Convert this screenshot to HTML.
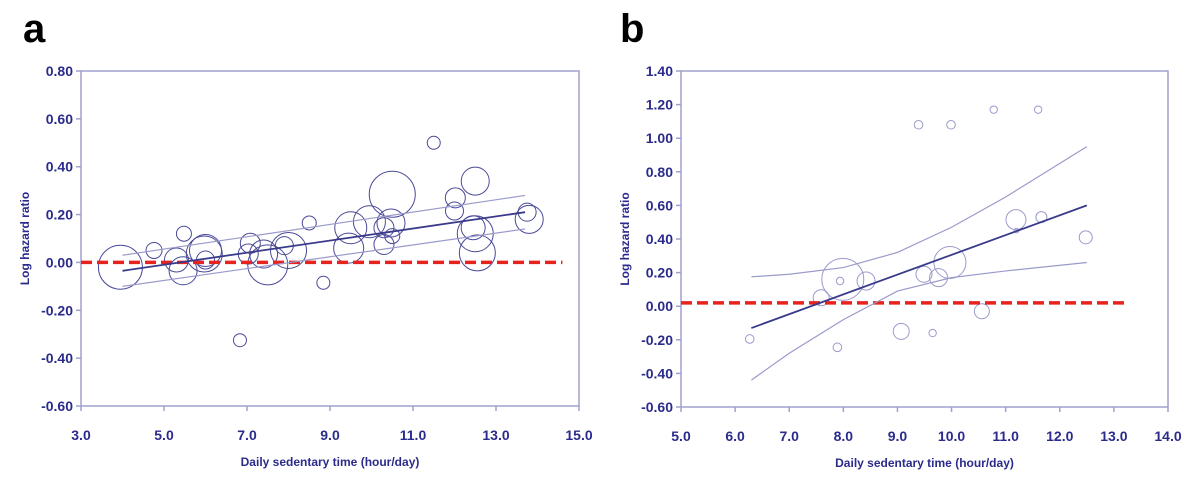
<!DOCTYPE html>
<html><head><meta charset="utf-8"><style>
html,body{margin:0;padding:0;background:#fff;}
svg{display:block;font-family:"Liberation Sans",sans-serif;}
.tk{font-size:14px;font-weight:bold;fill:#2b2b8c;}
.ttl{font-size:12px;font-weight:bold;fill:#2b2b8c;}
.pl{font-size:40px;font-weight:bold;fill:#000;}
</style></head><body>
<svg id="chart" width="1200" height="487" viewBox="0 0 1200 487"></svg>
<script>
// Panel a data
const aXTicks=[3,5,7,9,11,13,15];
const aYTicks=[0.8,0.6,0.4,0.2,0,-0.2,-0.4,-0.6];
const aBx=[3.95,4.76,5.48,5.46,5.3,5.97,6.0,6.0,7.08,7.03,7.5,7.4,8.0,7.9,8.5,8.84,6.83,9.5,9.45,9.95,10.3,10.5,10.47,10.5,10.3,11.5,12.02,12.0,12.5,12.5,12.55,12.45,13.8,13.75];
const aBy=[-0.02,0.05,0.12,-0.035,0.01,0.035,0.05,0.01,0.08,0.035,-0.01,0.035,0.05,0.07,0.165,-0.085,-0.325,0.145,0.06,0.17,0.075,0.285,0.165,0.11,0.145,0.50,0.27,0.215,0.34,0.12,0.04,0.145,0.18,0.21];
const aBw=[22,8,7.5,14,12,18,16,9,10,10,20,14,18,9,7,6.5,6.5,16,15,16,10,23,14,7.5,10,6.5,10,9,14,18,18,12,14,9];
const aFitX=[4.0,13.7];const aFitY=[-0.035,0.21];
const aUpY=[0.03,0.28];const aLoY=[-0.10,0.14];
// Panel b data
const bXTicks=[5,6,7,8,9,10,11,12,13,14];
const bYTicks=[1.4,1.2,1.0,0.8,0.6,0.4,0.2,0,-0.2,-0.4,-0.6];
const bBx=[6.27,7.94,7.89,7.59,7.99,8.42,9.07,9.39,9.99,9.65,9.49,9.76,9.97,10.56,10.78,11.6,11.19,11.66,12.48,11.2];
const bBy=[-0.195,0.15,-0.245,0.05,0.16,0.15,-0.15,1.08,1.08,-0.16,0.19,0.17,0.26,-0.03,1.17,1.17,0.515,0.53,0.41,0.45];
const bBw=[4.3,3.7,4.3,8,21,9,8,4.3,4.3,3.7,8,9,16,7.5,3.7,3.7,10,5.5,6.5,2.3];
const bFitX=[6.3,12.5];const bFitY=[-0.13,0.60];
const bCiX=[6.3,7,8,9,10,11,12.5];
const bUpY=[0.175,0.19,0.23,0.32,0.47,0.65,0.95];
const bLoY=[-0.44,-0.28,-0.08,0.09,0.17,0.21,0.26];

const svg=document.getElementById('chart');
const NS='http://www.w3.org/2000/svg';
function mk(t,at,p){const e=document.createElementNS(NS,t);for(const k in at)e.setAttribute(k,at[k]);(p||svg).appendChild(e);return e;}

function panel(o){
  const g=mk('g',{});
  
  
  const sx=v=>o.x0+(v-o.xmin)/(o.xmax-o.xmin)*(o.x1-o.x0);
  const sy=v=>o.y1-(v-o.ymin)/(o.ymax-o.ymin)*(o.y1-o.y0);
  const lbl=mk('text',{x:o.lx,y:42,class:'pl'},g);lbl.textContent=o.letter;
  
  
  const fr=mk('rect',{x:o.x0,y:o.y0,width:o.x1-o.x0,height:o.y1-o.y0,fill:'none',stroke:'#a0a0cc','stroke-width':1.5},g);
  
  
  o.yt.forEach(v=>{
    mk('line',{x1:o.x0-5,x2:o.x0,y1:sy(v),y2:sy(v),stroke:'#a0a0cc','stroke-width':1.5},g);
    const t=mk('text',{x:o.x0-8,y:sy(v)+5,'text-anchor':'end',class:'tk'},g);t.textContent=v.toFixed(2);
    
    
  });
  o.xt.forEach(v=>{
    mk('line',{x1:sx(v),x2:sx(v),y1:o.y1,y2:o.y1+5,stroke:'#a0a0cc','stroke-width':1.5},g);
    const t=mk('text',{x:sx(v),y:o.y1+34,'text-anchor':'middle',class:'tk'},g);t.textContent=v.toFixed(1);
    
    
  });
  const xt=mk('text',{x:(o.x0+o.x1)/2,y:o.y1+60,'text-anchor':'middle',class:'ttl'},g);xt.textContent='Daily sedentary time (hour/day)';
  
  
  const yc=(o.y0+o.y1)/2;
  const yt=mk('text',{x:o.x0-52,y:yc,'text-anchor':'middle',class:'ttl',transform:`rotate(-90 ${o.x0-52} ${yc})`},g);yt.textContent='Log hazard ratio';
  
  
  o.bx.forEach((v,i)=>{
    const c=mk('circle',{cx:sx(v),cy:sy(o.by[i]),r:o.bw[i],fill:'none',stroke:o.bc,'stroke-width':1},g);
    
    
  });
  const ref=mk('line',{x1:sx(o.xmin),x2:sx(o.refEnd),y1:sy(o.refY),y2:sy(o.refY),stroke:'#e8231e','stroke-width':3.5,'stroke-dasharray':'11 5'},g);
  
  
  const path=(xs,ys)=>xs.map((v,i)=>(i?'L':'M')+sx(v)+' '+sy(ys[i])).join(' ');
  const up=mk('path',{d:path(o.ciX,o.up),fill:'none',stroke:'#9a9acc','stroke-width':1.2},g);
  
  
  const lo=mk('path',{d:path(o.ciX,o.lo),fill:'none',stroke:'#9a9acc','stroke-width':1.2},g);
  
  
  const fit=mk('path',{d:path(o.fx,o.fy),fill:'none',stroke:'#3a3a8a','stroke-width':1.8},g);
  
  
}
panel({name:'panel-a',letter:'a',lx:23,x0:81,x1:579,y0:71,y1:406,xmin:3,xmax:15,ymin:-0.6,ymax:0.8,xt:aXTicks,yt:aYTicks,
  bx:aBx,by:aBy,bw:aBw,bc:'#4a4a99',refY:0,refEnd:14.6,fx:aFitX,fy:aFitY,ciX:aFitX,up:aUpY,lo:aLoY});
panel({name:'panel-b',letter:'b',lx:620,x0:681,x1:1168,y0:71,y1:407,xmin:5,xmax:14,ymin:-0.6,ymax:1.4,xt:bXTicks,yt:bYTicks,
  bx:bBx,by:bBy,bw:bBw,bc:'#9a9acc',refY:0.02,refEnd:13.25,fx:bFitX,fy:bFitY,ciX:bCiX,up:bUpY,lo:bLoY});
</script>
</body></html>
